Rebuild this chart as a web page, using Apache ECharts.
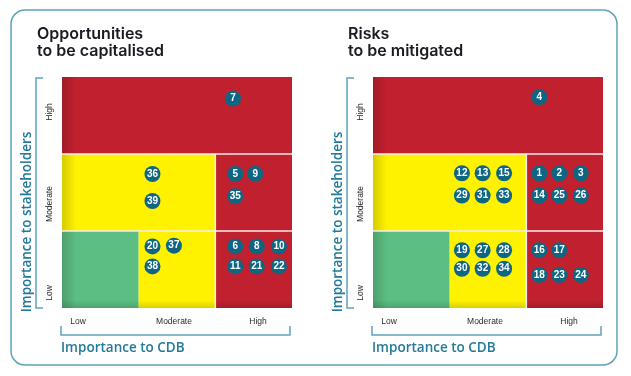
<!DOCTYPE html>
<html>
<head>
<meta charset="utf-8">
<script src="https://cdn.jsdelivr.net/npm/echarts@6/dist/echarts.min.js"></script>
<style>
html,body{margin:0;padding:0;background:#fff;}
#c{width:631px;height:376px;}
</style>
</head>
<body>
<div id="c"></div>
<script>
// ---- data ----
const panelTitles = ['Opportunities\nto be capitalised', 'Risks\nto be mitigated'];
const levelLabels = ['Low', 'Moderate', 'High'];
const yAxisTitle = 'Importance to stakeholders';
const xAxisTitle = 'Importance to CDB';

// zones: [xFrom, xTo, yFrom, yTo, severity(0 low,1 moderate,2 high)]
const zoneCells = [
  [0, 3, 2, 3, 2],
  [0, 2, 1, 2, 1],
  [2, 3, 1, 2, 2],
  [0, 1, 0, 1, 0],
  [1, 2, 0, 1, 1],
  [2, 3, 0, 1, 2]
];
// separators between zones: [x0, y0, x1, y1]
const zoneBorders = [
  [0, 2, 3, 2],
  [0, 1, 3, 1],
  [2, 0, 2, 2]
];

// Opportunities
const oppIds = ['7', '36', '39', '5', '9', '35', '20', '37', '38', '6', '8', '10', '11', '21', '22'];
const oppX   = [2.23, 1.18, 1.18, 2.26, 2.52, 2.26, 1.18, 1.46, 1.18, 2.26, 2.54, 2.83, 2.26, 2.54, 2.83];
const oppY   = [2.72, 1.74, 1.39, 1.74, 1.74, 1.45, 0.80, 0.81, 0.54, 0.80, 0.80, 0.80, 0.54, 0.54, 0.54];

// Risks
const riskIds = ['4', '12', '13', '15', '29', '31', '33', '1', '2', '3', '14', '25', '26', '19', '27', '28', '30', '32', '34', '16', '17', '18', '23', '24'];
const riskX   = [2.17, 1.16, 1.43, 1.71, 1.16, 1.43, 1.71, 2.17, 2.43, 2.71, 2.17, 2.43, 2.71, 1.16, 1.43, 1.71, 1.16, 1.43, 1.71, 2.17, 2.43, 2.17, 2.43, 2.71];
const riskY   = [2.74, 1.75, 1.75, 1.75, 1.46, 1.46, 1.46, 1.75, 1.75, 1.75, 1.46, 1.46, 1.46, 0.75, 0.75, 0.75, 0.51, 0.51, 0.51, 0.75, 0.75, 0.43, 0.43, 0.43];

// ---- styles / layout ----
const zoneColors = ['#5cbe82', '#fff200', '#c1202f'];
const bubbleColor = '#0e6683';
const teal = '#217a9a';
const lineTeal = '#5ea2ba';
const grids = [
  {left: 62, top: 77, width: 230, height: 231},
  {left: 373, top: 77, width: 230, height: 231}
];
const panels = [
  {ids: oppIds, xs: oppX, ys: oppY},
  {ids: riskIds, xs: riskX, ys: riskY}
];

const chart = echarts.init(document.getElementById('c'), null, {renderer: 'canvas'});

const series = [];
panels.forEach((p, i) => {
  series.push({
    type: 'custom',
    xAxisIndex: i, yAxisIndex: i,
    z: 1,
    silent: true,
    data: zoneCells,
    renderItem: (params, api) => {
      const a = api.coord([api.value(0), api.value(3)]);
      const b = api.coord([api.value(1), api.value(2)]);
      return {
        type: 'rect',
        shape: {x: a[0], y: a[1], width: b[0] - a[0], height: b[1] - a[1]},
        style: {fill: zoneColors[api.value(4)]}
      };
    }
  });
  // subtle edge shading (left and bottom) over the whole matrix
  series.push({
    type: 'custom',
    xAxisIndex: i, yAxisIndex: i,
    z: 2,
    silent: true,
    data: [[0, 0, 3, 3]],
    renderItem: (params, api) => {
      const a = api.coord([api.value(0), api.value(3)]);
      const b = api.coord([api.value(2), api.value(1)]);
      const w = b[0] - a[0], h = b[1] - a[1];
      return {
        type: 'group',
        children: [
          {type: 'rect', shape: {x: a[0], y: a[1], width: 14, height: h},
           style: {fill: new echarts.graphic.LinearGradient(0, 0, 1, 0, [
             {offset: 0, color: 'rgba(0,0,0,0.16)'}, {offset: 1, color: 'rgba(0,0,0,0)'}])}},
          {type: 'rect', shape: {x: a[0], y: b[1] - 8, width: w, height: 8},
           style: {fill: new echarts.graphic.LinearGradient(0, 0, 0, 1, [
             {offset: 0, color: 'rgba(0,0,0,0)'}, {offset: 1, color: 'rgba(0,0,0,0.14)'}])}}
        ]
      };
    }
  });
  series.push({
    type: 'custom',
    xAxisIndex: i, yAxisIndex: i,
    z: 3,
    silent: true,
    data: zoneBorders,
    renderItem: (params, api) => {
      const a = api.coord([api.value(0), api.value(1)]);
      const b = api.coord([api.value(2), api.value(3)]);
      return {
        type: 'line',
        shape: {x1: a[0], y1: a[1], x2: b[0], y2: b[1]},
        style: {stroke: '#f4eeee', lineWidth: 1.5}
      };
    }
  });
  series.push({
    type: 'scatter',
    xAxisIndex: i, yAxisIndex: i,
    z: 5,
    symbolSize: 16,
    itemStyle: {color: bubbleColor, opacity: 1},
    label: {
      show: true, position: 'inside', formatter: '{b}',
      color: '#fff', fontSize: 10, fontWeight: 'bold',
      fontFamily: 'Liberation Sans, Arial, sans-serif'
    },
    data: p.ids.map((id, k) => ({name: id, value: [p.xs[k], p.ys[k]]}))
  });
});

const graphic = [];
// outer frame
graphic.push({
  type: 'rect', shape: {x: 11, y: 10, width: 606, height: 355, r: 14},
  style: {fill: 'none', stroke: lineTeal, lineWidth: 1.5}, z: 0
});
const tickYOffsets = [216, 127, 35]; // Low, Moderate, High label centres below grid top
const tickXOffsets = [16, 112, 196];
grids.forEach((g, i) => {
  const gl = g.left, gt = g.top, gb = g.top + g.height, gr = g.left + g.width;
  // panel title
  graphic.push({
    type: 'text', left: gl - 25, top: 26,
    style: {text: panelTitles[i], font: '600 16px Inter, sans-serif', fill: '#1a1a24', lineHeight: 17}
  });
  // y bracket
  graphic.push({
    type: 'polyline',
    shape: {points: [[gl - 19, gt + 1], [gl - 26, gt + 1], [gl - 26, gb], [gl - 19, gb]]},
    style: {stroke: lineTeal, lineWidth: 1.5, fill: 'none'}
  });
  // x bracket
  graphic.push({
    type: 'polyline',
    shape: {points: [[gl - 1, gb + 18], [gl - 1, gb + 27], [gr - 2, gb + 27], [gr - 2, gb + 18]]},
    style: {stroke: lineTeal, lineWidth: 1.5, fill: 'none'}
  });
  levelLabels.forEach((lab, k) => {
    graphic.push({
      type: 'text', x: gl - 12, y: gt + tickYOffsets[k], rotation: Math.PI / 2,
      style: {text: lab, font: '8.5px Liberation Sans, Arial, sans-serif', fill: '#2a2a2a', align: 'center', verticalAlign: 'middle'}
    });
    graphic.push({
      type: 'text', x: gl + tickXOffsets[k], y: gb + 14,
      style: {text: lab, font: '8.5px Liberation Sans, Arial, sans-serif', fill: '#2a2a2a', align: 'center', verticalAlign: 'middle'}
    });
  });
  // axis titles
  graphic.push({
    type: 'text', x: gl - 35, y: gt + 145, rotation: Math.PI / 2,
    style: {text: yAxisTitle, font: '600 13.5px Open Sans, sans-serif', fill: teal, align: 'center', verticalAlign: 'middle'}
  });
  graphic.push({
    type: 'text', x: gl - 1, y: gb + 40,
    style: {text: xAxisTitle, font: '600 13.5px Open Sans, sans-serif', fill: teal, align: 'left', verticalAlign: 'middle'}
  });
});

chart.setOption({
  animation: false,
  backgroundColor: '#fff',
  grid: grids,
  xAxis: grids.map((g, i) => ({gridIndex: i, type: 'value', min: 0, max: 3, show: false})),
  yAxis: grids.map((g, i) => ({gridIndex: i, type: 'value', min: 0, max: 3, show: false})),
  series: series,
  graphic: graphic
});
</script>
</body>
</html>
